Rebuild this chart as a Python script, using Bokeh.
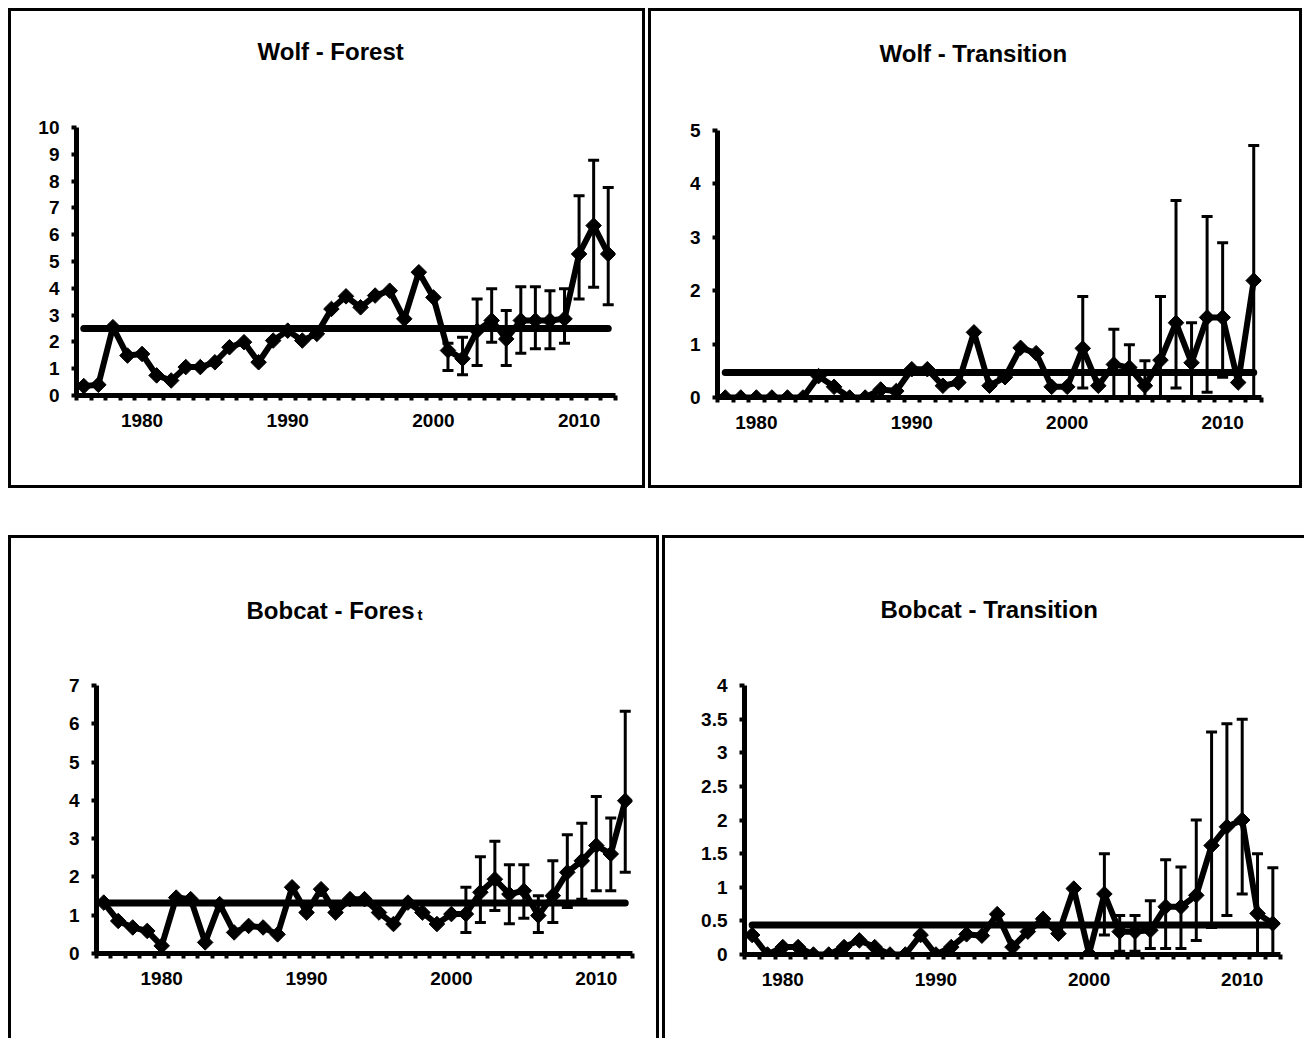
import math
from bokeh.plotting import figure
from bokeh.models import (Range1d, FixedTicker, Title, Whisker, TeeHead, ColumnDataSource,
                          Spacer)
from bokeh.layouts import column, row
from bokeh.embed import file_html
from bokeh.resources import INLINE

# ---------------- data ----------------
wolf_forest_years = list(range(1976, 2013))
wolf_forest_vals = [0.35, 0.4, 2.55, 1.49, 1.55, 0.75, 0.56, 1.06, 1.06, 1.24,
                    1.8, 1.99, 1.24, 2.05, 2.42, 2.05, 2.3, 3.23, 3.7, 3.29,
                    3.73, 3.91, 2.86, 4.6, 3.66, 1.68, 1.37, 2.42, 2.8, 2.11,
                    2.8, 2.8, 2.8, 2.86, 5.28, 6.34, 5.28]
wolf_forest_err_years = list(range(2001, 2013))
wolf_forest_err_upper = [1.95, 2.17, 3.6, 3.98, 3.17, 4.06, 4.06, 3.91, 3.98, 7.45, 8.78, 7.76]
wolf_forest_err_lower = [0.93, 0.77, 1.12, 1.99, 1.12, 1.58, 1.74, 1.74, 1.95, 3.6, 4.04, 3.39]
wolf_forest_mean = 2.5

wolf_trans_years = list(range(1978, 2013))
wolf_trans_vals = [0, 0, 0, 0, 0, 0, 0.4, 0.2, 0, 0,
                   0.15, 0.12, 0.53, 0.53, 0.22, 0.28, 1.22, 0.22, 0.38, 0.93,
                   0.83, 0.2, 0.2, 0.92, 0.22, 0.62, 0.56, 0.22, 0.7, 1.4,
                   0.65, 1.5, 1.5, 0.28, 2.19]
wolf_trans_err_years = [2001, 2003, 2004, 2005, 2006, 2007, 2008, 2009, 2010, 2012]
wolf_trans_err_upper = [1.89, 1.28, 0.99, 0.69, 1.89, 3.69, 1.4, 3.39, 2.9, 4.72]
wolf_trans_err_lower = [0.18, 0.0, 0.0, 0.0, 0.0, 0.18, 0.0, 0.1, 0.38, 0.0]
wolf_trans_mean = 0.47

bobcat_forest_years = list(range(1976, 2013))
bobcat_forest_vals = [1.33, 0.85, 0.68, 0.59, 0.2, 1.46, 1.42, 0.29, 1.29, 0.55,
                      0.72, 0.68, 0.5, 1.73, 1.07, 1.68, 1.07, 1.42, 1.42, 1.07,
                      0.77, 1.33, 1.07, 0.77, 1.03, 1.03, 1.6, 1.94, 1.55, 1.64,
                      0.99, 1.51, 2.12, 2.42, 2.82, 2.6, 3.99]
bobcat_forest_err_years = list(range(2001, 2013))
bobcat_forest_err_upper = [1.73, 2.53, 2.93, 2.32, 2.32, 1.51, 2.42, 3.1, 3.4, 4.1, 3.54, 6.33]
bobcat_forest_err_lower = [0.55, 0.81, 1.12, 0.78, 0.92, 0.55, 0.81, 1.2, 1.42, 1.64, 1.64, 2.12]
bobcat_forest_mean = 1.32

bobcat_trans_years = list(range(1978, 2013))
bobcat_trans_vals = [0.29, 0, 0.11, 0.11, 0, 0, 0.11, 0.21, 0.11, 0,
                     0, 0.29, 0, 0.11, 0.3, 0.28, 0.6, 0.11, 0.34, 0.53,
                     0.31, 0.98, 0.01, 0.9, 0.34, 0.34, 0.36, 0.71, 0.71, 0.88,
                     1.62, 1.9, 2.0, 0.61, 0.46]
bobcat_trans_err_years = list(range(2001, 2013))
bobcat_trans_err_upper = [1.5, 0.58, 0.58, 0.8, 1.41, 1.3, 2.0, 3.31, 3.43, 3.5, 1.5, 1.29]
bobcat_trans_err_lower = [0.29, 0.05, 0.05, 0.09, 0.09, 0.09, 0.21, 0.4, 0.58, 0.9, 0.0, 0.0]
bobcat_trans_mean = 0.44

x_tick_years = [1980, 1990, 2000, 2010]
y_ticks_wolf_forest = list(range(0, 11))
y_ticks_wolf_trans = list(range(0, 6))
y_ticks_bobcat_forest = list(range(0, 8))
y_ticks_bobcat_trans = [0, 0.5, 1, 1.5, 2, 2.5, 3, 3.5, 4]
y_labels_bobcat_trans = ["0", "0.5", "1", "1.5", "2", "2.5", "3", "3.5", "4"]

FONT = "Liberation Sans"
BLACK = "#000000"
NBSP = "\u00a0"


def make_panel(years, vals, err_years, err_up, err_lo, mean, yticks, ylabels,
               geom, gap, titles):
    W, H, L, R, T, B = geom
    p = figure(width=W, height=H, output_backend="svg", toolbar_location=None,
               x_range=Range1d(years[0] - 0.5, years[-1] + 0.5),
               y_range=Range1d(yticks[0], yticks[-1]),
               min_border_left=L, min_border_right=R, min_border_top=T, min_border_bottom=B,
               background_fill_color="white", border_fill_color="white")
    p.title.visible = False
    p.grid.visible = False
    p.outline_line_color = None

    # x axis (category-style: ticks between years)
    xa = p.xaxis[0]
    xa.ticker = FixedTicker(ticks=x_tick_years,
                            minor_ticks=[y - 0.5 for y in years] + [years[-1] + 0.5])
    xa.axis_line_width = 5
    xa.axis_line_color = BLACK
    xa.major_tick_line_color = None
    xa.major_tick_out = 0
    xa.major_tick_in = 0
    xa.minor_tick_line_width = 4
    xa.minor_tick_line_color = BLACK
    xa.minor_tick_out = 5
    xa.minor_tick_in = 0
    xa.major_label_standoff = 13
    xa.major_label_text_font = FONT
    xa.major_label_text_font_style = "bold"
    xa.major_label_text_font_size = "19px"
    xa.major_label_text_color = BLACK

    # y axis
    ya = p.yaxis[0]
    ya.ticker = FixedTicker(ticks=yticks)
    labels = ylabels if ylabels is not None else [str(t) for t in yticks]
    ya.major_label_overrides = {t: s for t, s in zip(yticks, labels)}
    ya.axis_line_width = 5
    ya.axis_line_color = BLACK
    ya.major_tick_line_width = 4
    ya.major_tick_line_color = BLACK
    ya.major_tick_out = 5
    ya.major_tick_in = 0
    ya.minor_tick_line_color = None
    ya.major_label_standoff = 12
    ya.major_label_text_font = FONT
    ya.major_label_text_font_style = "bold"
    ya.major_label_text_font_size = "19px"
    ya.major_label_text_color = BLACK

    # mean line
    p.line(x=[years[0], years[-1]], y=[mean, mean], line_width=7, line_color=BLACK,
           line_cap="round")
    # series
    p.line(x=years, y=vals, line_width=6, line_color=BLACK, line_join="round")
    p.scatter(x=years, y=vals, marker="square", angle=math.pi / 4, size=11,
              fill_color=BLACK, line_color=BLACK, line_width=1)
    # error bars
    src = ColumnDataSource(dict(x=err_years, upper=err_up, lower=err_lo))
    w = Whisker(source=src, base="x", upper="upper", lower="lower",
                line_width=3, line_color=BLACK, level="glyph",
                upper_head=TeeHead(size=11, line_width=3, line_color=BLACK),
                lower_head=TeeHead(size=11, line_width=3, line_color=BLACK))
    p.add_layout(w)

    # blank spacer title nearest the frame, then the real title(s) stacked above it
    p.add_layout(Title(text=NBSP, text_font=FONT, text_font_size="8px",
                       text_color=BLACK, align="left", offset=0, standoff=gap), "above")
    for text, size, offset, standoff in titles:
        p.add_layout(Title(text=text, text_font=FONT, text_font_style="bold",
                           text_font_size=size, text_color=BLACK,
                           align="left", offset=offset, standoff=standoff), "above")
    return p


def boxed(p, styles):
    return column(p, styles=styles)


full_border = {"border": "3px solid #000"}

p1 = make_panel(wolf_forest_years, wolf_forest_vals, wolf_forest_err_years,
                wolf_forest_err_upper, wolf_forest_err_lower, wolf_forest_mean,
                y_ticks_wolf_forest, None,
                (631, 474, 65, 27, 116, 90), 52,
                [("Wolf - Forest", "24px", 181, 0)])
p2 = make_panel(wolf_trans_years, wolf_trans_vals, wolf_trans_err_years,
                wolf_trans_err_upper, wolf_trans_err_lower, wolf_trans_mean,
                y_ticks_wolf_trans, None,
                (648, 474, 66, 38, 119, 88), 53,
                [("Wolf - Transition", "24px", 162, 0)])
p3 = make_panel(bobcat_forest_years, bobcat_forest_vals, bobcat_forest_err_years,
                bobcat_forest_err_upper, bobcat_forest_err_lower, bobcat_forest_mean,
                y_ticks_bobcat_forest, None,
                (645, 500, 85, 24, 147, 85), 52,
                [("t", "15px", 321, 0),
                 ("Bobcat - Fores", "24px", 150, -41)])
p4 = make_panel(bobcat_trans_years, bobcat_trans_vals, bobcat_trans_err_years,
                bobcat_trans_err_upper, bobcat_trans_err_lower, bobcat_trans_mean,
                y_ticks_bobcat_trans, y_labels_bobcat_trans,
                (639, 500, 79, 24, 147, 84), 52,
                [("Bobcat - Transition", "24px", 136, 0)])

row1 = row(Spacer(width=8, height=10), boxed(p1, full_border), Spacer(width=3, height=10),
           boxed(p2, full_border))
row2 = row(Spacer(width=8, height=10),
           boxed(p3, {"border": "3px solid #000", "border-bottom": "none"}),
           Spacer(width=3, height=10),
           boxed(p4, {"border": "3px solid #000", "border-bottom": "none",
                      "border-right": "none"}))
layout = column(Spacer(width=10, height=8), row1, Spacer(width=10, height=47), row2)

open("out.html", "w").write(file_html(layout, INLINE, "Wolf and Bobcat"))
